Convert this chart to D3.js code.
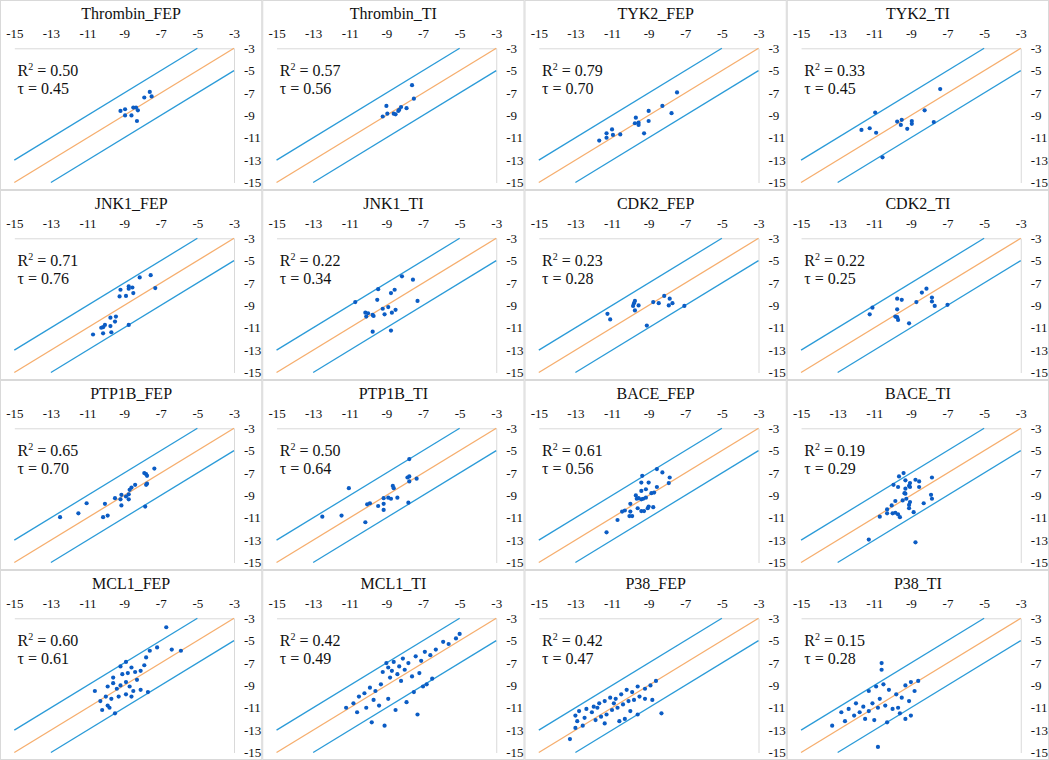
<!DOCTYPE html>
<html>
<head>
<meta charset="utf-8">
<script src="https://cdn.jsdelivr.net/npm/d3@7"></script>
<style>
  body { margin: 0; background: #fff; }
  svg { display: block; font-family: "Liberation Serif", "Times New Roman", serif; }
</style>
</head>
<body>
<div id="viz"></div>
<script>
const width = 1049;
const height = 760;
const cols = 4;
const panelW = width / cols;
const panelH = 190;

// Panel titles and stats
const panelNames = ['Thrombin_FEP', 'Thrombin_TI', 'TYK2_FEP', 'TYK2_TI',
  'JNK1_FEP', 'JNK1_TI', 'CDK2_FEP', 'CDK2_TI',
  'PTP1B_FEP', 'PTP1B_TI', 'BACE_FEP', 'BACE_TI',
  'MCL1_FEP', 'MCL1_TI', 'P38_FEP', 'P38_TI'];
const r2Values = ['0.50', '0.57', '0.79', '0.33', '0.71', '0.22', '0.23', '0.22',
  '0.65', '0.50', '0.61', '0.19', '0.60', '0.42', '0.42', '0.15'];
const tauValues = ['0.45', '0.56', '0.70', '0.45', '0.76', '0.34', '0.28', '0.25',
  '0.70', '0.64', '0.56', '0.29', '0.61', '0.49', '0.47', '0.28'];

const axisTicks = [-15, -13, -11, -9, -7, -5, -3];
const bandOffsets = [2, -2];

// points [x, y] per panel
const thrombinFEP = [[-7.6,-6.9],[-7.9,-7.4],[-7.5,-7.3],[-9.2,-8.6],[-8.95,-8.45],[-8.5,-8.3],[-8.35,-8.3],
  [-8.25,-8.55],[-8.95,-9.0],[-8.6,-9.0],[-8.3,-9.5]];
const thrombinTI = [[-7.6,-6.3],[-7.5,-7.5],[-9.0,-8.15],[-7.9,-8.35],[-8.2,-8.25],[-8.3,-8.5],[-8.35,-8.6],
  [-8.95,-8.85],[-8.6,-8.85],[-8.5,-8.9],[-9.2,-9.1]];
const tyk2FEP = [[-7.45,-6.95],[-8.25,-8.15],[-7.75,-8.8],[-9.0,-8.6],[-9.7,-9.2],[-9.0,-9.5],[-9.75,-9.7],
  [-9.55,-9.65],[-9.55,-9.85],[-9.25,-10.6],[-10.55,-10.7],[-11.0,-10.25],[-11.3,-10.6],[-10.95,-10.75],
  [-11.3,-11.0],[-11.7,-11.25]];
const tyk2TI = [[-7.4,-6.65],[-10.95,-8.75],[-8.25,-8.55],[-7.75,-9.6],[-9.5,-9.4],[-9.75,-9.55],[-9.55,-9.85],
  [-8.95,-9.5],[-8.95,-9.75],[-9.2,-10.2],[-11.25,-10.15],[-11.7,-10.3],[-10.9,-10.55],[-10.55,-12.75]];
const jnk1FEP = [[-7.55,-6.3],[-8.15,-6.5],[-7.3,-7.45],[-8.75,-7.3],[-8.55,-7.4],[-9.2,-7.6],[-8.75,-7.5],
  [-8.5,-7.9],[-9.25,-8.2],[-8.9,-8.15],[-9.45,-10.0],[-9.75,-10.1],[-9.5,-10.45],[-10.05,-10.75],
  [-9.75,-10.85],[-10.15,-10.95],[-10.25,-11.0],[-8.75,-10.75],[-10.7,-11.6],[-10.15,-11.5],[-9.7,-11.4]];
const jnk1TI = [[-8.15,-6.4],[-7.55,-6.7],[-9.45,-7.55],[-8.55,-7.6],[-8.75,-7.9],[-9.5,-8.5],[-10.7,-8.7],
  [-7.3,-8.6],[-8.9,-9.15],[-9.2,-9.3],[-8.5,-9.4],[-10.15,-9.65],[-10.0,-9.7],[-8.7,-9.65],[-9.1,-9.8],
  [-9.75,-9.85],[-9.7,-9.95],[-10.1,-10.0],[-9.75,-11.35],[-8.75,-11.25]];
const cdk2FEP = [[-8.15,-8.15],[-7.85,-8.4],[-9.75,-8.6],[-8.75,-8.7],[-8.45,-8.8],[-7.7,-8.8],[-7.9,-9.0],
  [-9.8,-8.8],[-9.85,-9.05],[-9.55,-9.0],[-9.75,-9.45],[-7.05,-9.05],[-11.25,-9.75],[-11.1,-10.25],[-9.1,-10.8]];
const cdk2TI = [[-8.15,-7.5],[-8.4,-7.85],[-9.75,-8.4],[-9.5,-8.5],[-7.85,-8.3],[-7.85,-8.65],[-8.7,-8.7],
  [-7.7,-9.05],[-7.0,-8.95],[-9.75,-9.35],[-11.1,-9.2],[-11.25,-9.8],[-9.85,-10.0],[-9.75,-10.05],
  [-9.7,-10.3],[-9.1,-10.6]];
const ptp1bFEP = [[-7.35,-6.6],[-7.9,-7.0],[-7.8,-7.1],[-7.75,-7.25],[-7.75,-7.95],[-7.8,-8.05],[-8.4,-8.05],
  [-8.6,-8.3],[-8.7,-8.5],[-8.75,-8.9],[-9.15,-8.95],[-8.9,-9.1],[-9.5,-9.25],[-9.2,-9.35],[-8.75,-9.35],
  [-10.05,-9.75],[-9.15,-9.9],[-11.05,-9.7],[-7.85,-10.0],[-11.5,-10.6],[-12.5,-10.95],[-10.15,-10.95],[-9.9,-10.8]];
const ptp1bTI = [[-7.75,-5.75],[-7.75,-7.3],[-7.85,-7.4],[-7.35,-7.5],[-7.75,-7.75],[-8.65,-8.15],[-8.6,-8.35],
  [-11.05,-8.35],[-9.15,-9.25],[-8.9,-9.2],[-8.75,-9.3],[-8.4,-9.2],[-9.9,-9.7],[-10.05,-9.8],[-9.15,-9.75],
  [-9.45,-9.95],[-7.8,-9.65],[-9.15,-10.3],[-11.45,-10.8],[-12.5,-10.9],[-10.15,-11.4]];
const baceFEP = [[-8.55,-6.65],[-8.25,-6.95],[-9.35,-7.25],[-7.85,-7.4],[-7.9,-7.9],[-9.4,-7.85],[-9.0,-7.85],
  [-8.55,-8.25],[-9.4,-8.6],[-9.15,-8.45],[-8.7,-8.75],[-8.85,-8.8],[-9.7,-9.0],[-9.55,-9.25],[-9.65,-9.3],
  [-9.3,-9.3],[-9.15,-9.2],[-9.4,-9.35],[-10.0,-9.75],[-9.0,-10.0],[-8.75,-10.05],[-9.6,-10.15],[-9.05,-10.15],
  [-9.4,-10.4],[-9.25,-10.4],[-10.3,-10.35],[-10.45,-10.45],[-10.0,-10.45],[-9.9,-10.85],[-10.05,-10.85],
  [-10.7,-11.2],[-11.3,-12.3]];
const baceTI = [[-9.4,-7.0],[-9.65,-7.3],[-7.85,-7.4],[-9.95,-8.05],[-9.3,-7.65],[-8.75,-7.6],[-8.55,-7.75],
  [-9.05,-7.9],[-9.1,-8.15],[-8.55,-8.25],[-9.7,-8.25],[-9.3,-8.4],[-9.05,-8.25],[-9.35,-8.8],[-9.3,-8.85],
  [-7.9,-8.95],[-7.85,-9.3],[-9.25,-9.3],[-9.85,-9.5],[-9.45,-9.45],[-9.05,-9.6],[-8.3,-9.7],[-10.05,-9.9],
  [-9.1,-9.85],[-9.1,-10.15],[-10.3,-10.25],[-9.85,-10.55],[-10.0,-10.6],[-10.3,-10.6],[-8.85,-10.5],
  [-9.7,-10.7],[-9.6,-10.95],[-10.7,-10.9],[-11.3,-12.95],[-8.75,-13.2]];
const mcl1FEP = [[-6.7,-3.8],[-5.9,-5.9],[-6.4,-5.8],[-7.2,-5.6],[-7.6,-5.9],[-7.8,-6.5],[-7.9,-7.2],
  [-8.9,-6.9],[-9.2,-7.3],[-8.6,-7.4],[-8.1,-7.7],[-8.4,-7.8],[-8.8,-7.9],[-9.1,-8.0],[-9.6,-8.3],
  [-8.3,-8.5],[-8.9,-8.7],[-8.7,-9.1],[-9.2,-9.0],[-9.6,-8.8],[-9.9,-9.1],[-9.4,-9.3],[-8.9,-9.8],
  [-8.5,-9.5],[-8.1,-9.4],[-7.7,-9.6],[-8.6,-10.0],[-9.3,-10.0],[-9.7,-10.2],[-9.9,-10.8],[-9.5,-11.5],
  [-10.2,-11.2],[-10.0,-10.0],[-10.6,-9.5],[-10.3,-10.4],[-9.8,-11.0]];
const mcl1TI = [[-5.0,-4.4],[-5.2,-4.8],[-5.6,-5.3],[-5.9,-5.1],[-6.3,-5.8],[-6.6,-6.3],[-6.9,-6.0],[-7.1,-6.8],
  [-7.4,-6.4],[-7.8,-7.0],[-8.1,-6.6],[-8.3,-7.3],[-8.6,-6.9],[-8.9,-7.4],[-9.2,-7.8],[-9.0,-7.0],[-8.7,-7.7],
  [-8.4,-8.0],[-8.0,-7.6],[-7.6,-8.2],[-7.2,-7.9],[-6.8,-8.9],[-6.5,-8.4],[-7.0,-9.1],[-7.5,-9.6],[-8.2,-8.6],
  [-8.8,-8.3],[-9.3,-8.9],[-9.6,-9.5],[-9.9,-9.2],[-10.2,-9.7],[-10.5,-10.0],[-10.8,-10.6],[-10.1,-11.0],
  [-9.7,-10.3],[-9.4,-10.8],[-8.9,-10.2],[-8.5,-11.2],[-7.9,-10.5],[-7.3,-11.6],[-9.8,-12.3],[-10.6,-11.4],
  [-11.2,-11.0],[-9.1,-12.6]];
const p38FEP = [[-8.6,-8.6],[-8.9,-9.0],[-9.2,-9.3],[-9.6,-9.1],[-9.9,-9.6],[-10.2,-9.4],[-10.5,-9.8],
  [-10.8,-10.2],[-11.1,-10.1],[-11.4,-10.4],[-11.7,-10.6],[-12.0,-10.9],[-12.4,-11.1],[-12.8,-11.3],
  [-13.0,-11.7],[-12.9,-12.2],[-12.6,-12.6],[-13.3,-13.8],[-11.9,-12.1],[-11.6,-11.8],[-11.3,-11.6],
  [-11.0,-11.2],[-10.7,-11.0],[-10.4,-10.7],[-10.1,-10.4],[-9.8,-10.3],[-9.5,-10.0],[-9.2,-10.2],
  [-8.8,-10.3],[-8.3,-11.5],[-10.3,-12.0],[-10.6,-12.2],[-11.4,-12.4],[-12.1,-11.4],[-11.8,-11.0],
  [-10.9,-10.6],[-10.0,-11.3],[-9.6,-11.6],[-12.5,-11.9],[-13.0,-12.8]];
const p38TI = [[-10.6,-7.0],[-10.6,-7.6],[-8.6,-8.6],[-9.0,-8.7],[-9.3,-9.0],[-10.5,-8.9],[-10.9,-9.1],
  [-11.3,-9.5],[-10.2,-9.4],[-9.8,-9.8],[-9.5,-10.1],[-8.8,-9.5],[-9.1,-10.4],[-10.7,-10.2],[-11.1,-10.6],
  [-11.6,-10.9],[-12.0,-10.6],[-12.4,-11.1],[-12.8,-11.4],[-12.6,-12.2],[-12.1,-11.7],[-11.8,-11.4],
  [-11.3,-11.3],[-10.8,-11.0],[-10.4,-10.8],[-10.0,-11.1],[-9.6,-11.5],[-9.3,-12.0],[-9.0,-11.7],
  [-10.3,-12.3],[-11.0,-12.1],[-13.3,-12.6],[-10.8,-14.5],[-9.7,-11.0],[-11.5,-12.0]];

const panelPoints = [thrombinFEP, thrombinTI, tyk2FEP, tyk2TI, jnk1FEP, jnk1TI, cdk2FEP, cdk2TI,
  ptp1bFEP, ptp1bTI, baceFEP, baceTI, mcl1FEP, mcl1TI, p38FEP, p38TI];

const pointColor = '#0b5cc4';
const bandColor = '#2b9bd8';
const diagColor = '#f6ae6e';
const axisColor = '#d9d9d9';
const textColor = '#111';

const svg = d3.select('#viz')
  .append('svg')
    .attr('width', width)
    .attr('height', height);

svg.append('rect')
  .attr('width', width).attr('height', height)
  .attr('fill', '#fff');

const xScale = d3.scaleLinear().domain([-15, -3]).range([14.3, 234]);
const yScale = d3.scaleLinear().domain([-3, -15]).range([48.3, 182.5]);

panelNames.forEach((name, i) => {
  const col = i % cols;
  const row = Math.floor(i / cols);
  const g = svg.append('g')
    .attr('transform', `translate(${col * panelW}, ${row * panelH})`);

  // panel border
  g.append('rect')
    .attr('x', 0.5).attr('y', 0.5)
    .attr('width', panelW - 1).attr('height', panelH - 1)
    .attr('fill', 'none')
    .attr('stroke', axisColor)
    .attr('stroke-width', 1);

  // title
  g.append('text')
    .attr('x', panelW / 2)
    .attr('y', 19)
    .attr('text-anchor', 'middle')
    .attr('fill', textColor)
    .style('font-size', '16px')
    .text(name);

  // top axis
  const xAxis = d3.axisTop(xScale)
    .tickValues(axisTicks)
    .tickSize(0)
    .tickPadding(10)
    .tickFormat(d => String(d));
  const xg = g.append('g')
    .attr('transform', `translate(0, ${yScale(-3)})`)
    .call(xAxis);
  xg.select('.domain').attr('stroke', axisColor);
  xg.selectAll('text').attr('fill', textColor).style('font-size', '13px')
    .style('font-family', '"Liberation Serif", serif');

  // right axis
  const yAxis = d3.axisRight(yScale)
    .tickValues(axisTicks)
    .tickSize(0)
    .tickPadding(10)
    .tickFormat(d => String(d));
  const yg = g.append('g')
    .attr('transform', `translate(${xScale(-3)}, 0)`)
    .call(yAxis);
  yg.select('.domain').attr('stroke', axisColor);
  yg.selectAll('text').attr('fill', textColor).style('font-size', '13px')
    .style('font-family', '"Liberation Serif", serif');

  // y = x +/- 2 band lines
  bandOffsets.forEach(off => {
    const x0 = Math.max(-15, -15 - off);
    const x1 = Math.min(-3, -3 - off);
    g.append('line')
      .attr('x1', xScale(x0)).attr('y1', yScale(x0 + off))
      .attr('x2', xScale(x1)).attr('y2', yScale(x1 + off))
      .attr('stroke', bandColor)
      .attr('stroke-width', 1.3);
  });

  // y = x
  g.append('line')
    .attr('x1', xScale(-15)).attr('y1', yScale(-15))
    .attr('x2', xScale(-3)).attr('y2', yScale(-3))
    .attr('stroke', diagColor)
    .attr('stroke-width', 1.3);

  // points
  g.selectAll('circle.pt')
    .data(panelPoints[i])
    .join('circle')
      .attr('class', 'pt')
      .attr('cx', d => xScale(d[0]))
      .attr('cy', d => yScale(d[1]))
      .attr('r', 2.1)
      .attr('fill', pointColor);

  // stats
  const r2 = g.append('text')
    .attr('x', 17.5)
    .attr('y', 76)
    .attr('fill', textColor)
    .style('font-size', '16px');
  r2.append('tspan').text('R');
  r2.append('tspan').attr('dy', -6).style('font-size', '10px').text('2');
  r2.append('tspan').attr('dy', 6).text(' = ' + r2Values[i]);

  g.append('text')
    .attr('x', 17.5)
    .attr('y', 94)
    .attr('fill', textColor)
    .style('font-size', '16px')
    .text('τ = ' + tauValues[i]);
});
</script>
</body>
</html>
